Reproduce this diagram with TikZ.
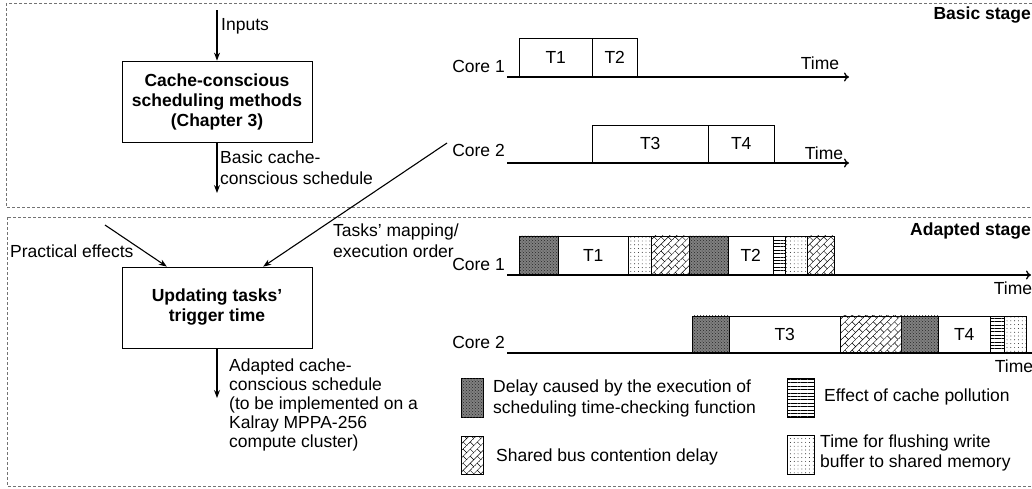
\documentclass[tikz,border=0pt]{standalone}
\usepackage{fontspec}
\setmainfont{Liberation Sans}
\usetikzlibrary{arrows.meta,patterns,patterns.meta,calc}

% diagonal brick hatch used for bus contention delay
\tikzdeclarepattern{
  name=diagbrick,
  type=uncolored,
  bounding box={(-0.3pt,-0.3pt) and (10.3pt,10.3pt)},
  tile size={(10pt,10pt)},
  tile transformation={rotate=45},
  code={
    \pgfsetlinewidth{0.45pt}
    \pgfpathmoveto{\pgfpoint{0pt}{0pt}}\pgfpathlineto{\pgfpoint{10pt}{0pt}}
    \pgfpathmoveto{\pgfpoint{0pt}{5pt}}\pgfpathlineto{\pgfpoint{10pt}{5pt}}
    \pgfpathmoveto{\pgfpoint{0pt}{0pt}}\pgfpathlineto{\pgfpoint{0pt}{5pt}}
    \pgfpathmoveto{\pgfpoint{5pt}{5pt}}\pgfpathlineto{\pgfpoint{5pt}{10pt}}
    \pgfusepath{stroke}
  }
}

\begin{document}
\begin{tikzpicture}[x=1pt,y=-1pt,
  every node/.style={font=\fontsize{17.5}{20}\selectfont},
  frame/.style={draw=black!55, dash pattern=on 3pt off 2pt, line width=0.6pt},
  procbox/.style={draw, line width=0.8pt, minimum width=190pt, minimum height=81pt,
    align=center, font=\fontsize{17.5}{20}\selectfont\bfseries},
  flow/.style={-{Stealth[length=8pt,width=6pt]}, line width=1.1pt},
  axis/.style={-{To[length=5pt,width=9pt]}, line width=1.3pt},
  lbl/.style={inner sep=0pt, align=left},
  stagelbl/.style={anchor=east, inner sep=0pt, font=\fontsize{17.5}{20}\selectfont\bfseries},
  blk/.style={draw, line width=0.5pt, anchor=south west, inner sep=0pt},
  dk/.style={fill=black!50, postaction={pattern=crosshatch dots, pattern color=black!85}},
  brick/.style={fill=white, postaction={pattern=diagbrick, pattern color=black}},
  hl/.style={fill=white, postaction={pattern={Lines[distance=3.4pt, line width=0.5pt]}, pattern color=black}},
  sd/.style={fill=white, postaction={pattern={Dots[distance=3.8pt, radius=0.45pt]}, pattern color=black}},
  swatch/.style={draw, line width=0.5pt, anchor=north west, inner sep=0pt},
]
\useasboundingbox (0,0) rectangle (1032,488);
\clip (0,0) rectangle (1032,488);

% stage frames
\draw[frame] (6,3) rectangle (1045,207);
\draw[frame] (7,217) rectangle (1045,486);
\node[stagelbl] (basic) at (1031,15) {Basic stage};
\node[stagelbl] (adapted) at (1031,231) {Adapted stage};

% ---- left flow ----
\node[procbox] (box1) at (217,101.5) {Cache-conscious\\scheduling methods\\(Chapter 3)};
\coordinate (in) at (217,10);
\draw[flow] (in) -- (box1.north);
\node[lbl, anchor=west] (inlbl) at (221,26) {Inputs};

\coordinate (out1) at (217,193);
\draw[flow] (box1.south) -- (out1);
\node[lbl, anchor=west, font=\fontsize{17.5}{21}\selectfont] (out1lbl) at (220,168) {Basic cache-\\conscious schedule};

\node[procbox] (box2) at (217,307.5) {Updating tasks'\\trigger time};

\coordinate (pe) at (105,225);
\draw[flow] (pe) -- ($(box2.north west)!0.237!(box2.north east)$);
\node[lbl, anchor=west] (pelbl) at (10,251) {Practical effects};

\coordinate (map) at (447,143);
\draw[flow] (map) -- ($(box2.north west)!0.742!(box2.north east)$);
\node[lbl, anchor=west, font=\fontsize{17.5}{21}\selectfont] (maplbl) at (333,240.5) {Tasks' mapping/\\execution order};

\coordinate (out2) at (217,398);
\draw[flow] (box2.south) -- (out2);
\node[lbl, anchor=west, font=\fontsize{17.5}{19}\selectfont] (out2lbl) at (229,405)
  {Adapted cache-\\conscious schedule\\(to be implemented on a\\Kalray MPPA-256\\compute cluster)};

% ---- basic schedule ----
\node[lbl, anchor=east] (bc1) at (505,66) {Core 1};
\coordinate (ba1s) at (507,77);
\coordinate (ba1e) at (849,77);
\node[blk, minimum width=73pt, minimum height=39pt] (bt1) at (519,77) {T1};
\node[blk, minimum width=45pt, minimum height=39pt] (bt2) at (592,77) {T2};
\draw[axis] (ba1s) -- (ba1e);
\node[lbl] (bt1time) at (820,63) {Time};

\node[lbl, anchor=east] (bc2) at (505,150) {Core 2};
\coordinate (ba2s) at (507,163);
\coordinate (ba2e) at (849,163);
\node[blk, minimum width=116pt, minimum height=38pt] (bt3) at (592,163) {T3};
\node[blk, minimum width=66pt, minimum height=38pt] (bt4) at (708,163) {T4};
\draw[axis] (ba2s) -- (ba2e);
\node[lbl] (bt2time) at (824,153) {Time};

% ---- adapted schedule, core 1 ----
\node[lbl, anchor=east] (ac1) at (505,264) {Core 1};
\node[blk, dk,    minimum width=39pt, minimum height=39pt] (a1) at (519,275) {};
\node[blk,        minimum width=70pt, minimum height=39pt] (a2) at (558,275) {T1};
\node[blk, sd,    minimum width=23pt, minimum height=39pt] (a3) at (628,275) {};
\node[blk, brick, minimum width=38pt, minimum height=39pt] (a4) at (651,275) {};
\node[blk, dk,    minimum width=39pt, minimum height=39pt] (a5) at (689,275) {};
\node[blk,        minimum width=45pt, minimum height=39pt] (a6) at (728,275) {T2};
\node[blk, hl,    minimum width=12pt, minimum height=39pt] (a7) at (773,275) {};
\node[blk, sd,    minimum width=22pt, minimum height=39pt] (a8) at (785,275) {};
\node[blk, brick, minimum width=27pt, minimum height=39pt] (a9) at (807,275) {};
\coordinate (aa1s) at (507,275);
\coordinate (aa1e) at (1031,275);
\draw[axis] (aa1s) -- (aa1e);
\node[lbl] (at1time) at (1013,288) {Time};

% ---- adapted schedule, core 2 ----
\node[lbl, anchor=east] (ac2) at (505,342) {Core 2};
\node[blk, dk,    minimum width=37pt, minimum height=37pt] (b1) at (692,353) {};
\node[blk,        minimum width=111pt, minimum height=37pt] (b2) at (729,353) {T3};
\node[blk, brick, minimum width=61pt, minimum height=37pt] (b3) at (840,353) {};
\node[blk, dk,    minimum width=37pt, minimum height=37pt] (b4) at (901,353) {};
\node[blk,        minimum width=52pt, minimum height=37pt] (b5) at (938,353) {T4};
\node[blk, hl,    minimum width=14pt, minimum height=37pt] (b6) at (990,353) {};
\node[blk, sd,    minimum width=22pt, minimum height=37pt] (b7) at (1004,353) {};
\coordinate (aa2s) at (507,353);
\coordinate (aa2e) at (1045,353);
\draw[axis] (aa2s) -- (aa2e);
\node[lbl] (at2time) at (1014,366) {Time};

% ---- legend ----
\node[swatch, dk, minimum width=22pt, minimum height=39pt] (lg1) at (461,378) {};
\node[lbl, anchor=west, font=\fontsize{17.5}{21}\selectfont] (lg1t) at (493,398.5)
  {Delay caused by the execution of\\scheduling time-checking function};
\node[swatch, hl, minimum width=27pt, minimum height=39pt] (lg2) at (787,378) {};
\node[lbl, anchor=west] (lg2t) at (824,397) {Effect of cache pollution};
\node[swatch, brick, minimum width=22pt, minimum height=38pt] (lg3) at (461,436) {};
\node[lbl, anchor=west] (lg3t) at (496,457) {Shared bus contention delay};
\node[swatch, sd, minimum width=27pt, minimum height=39pt] (lg4) at (787,435) {};
\node[lbl, anchor=west, font=\fontsize{17.5}{20}\selectfont] (lg4t) at (820,453)
  {Time for flushing write\\buffer to shared memory};
\end{tikzpicture}
\end{document}
